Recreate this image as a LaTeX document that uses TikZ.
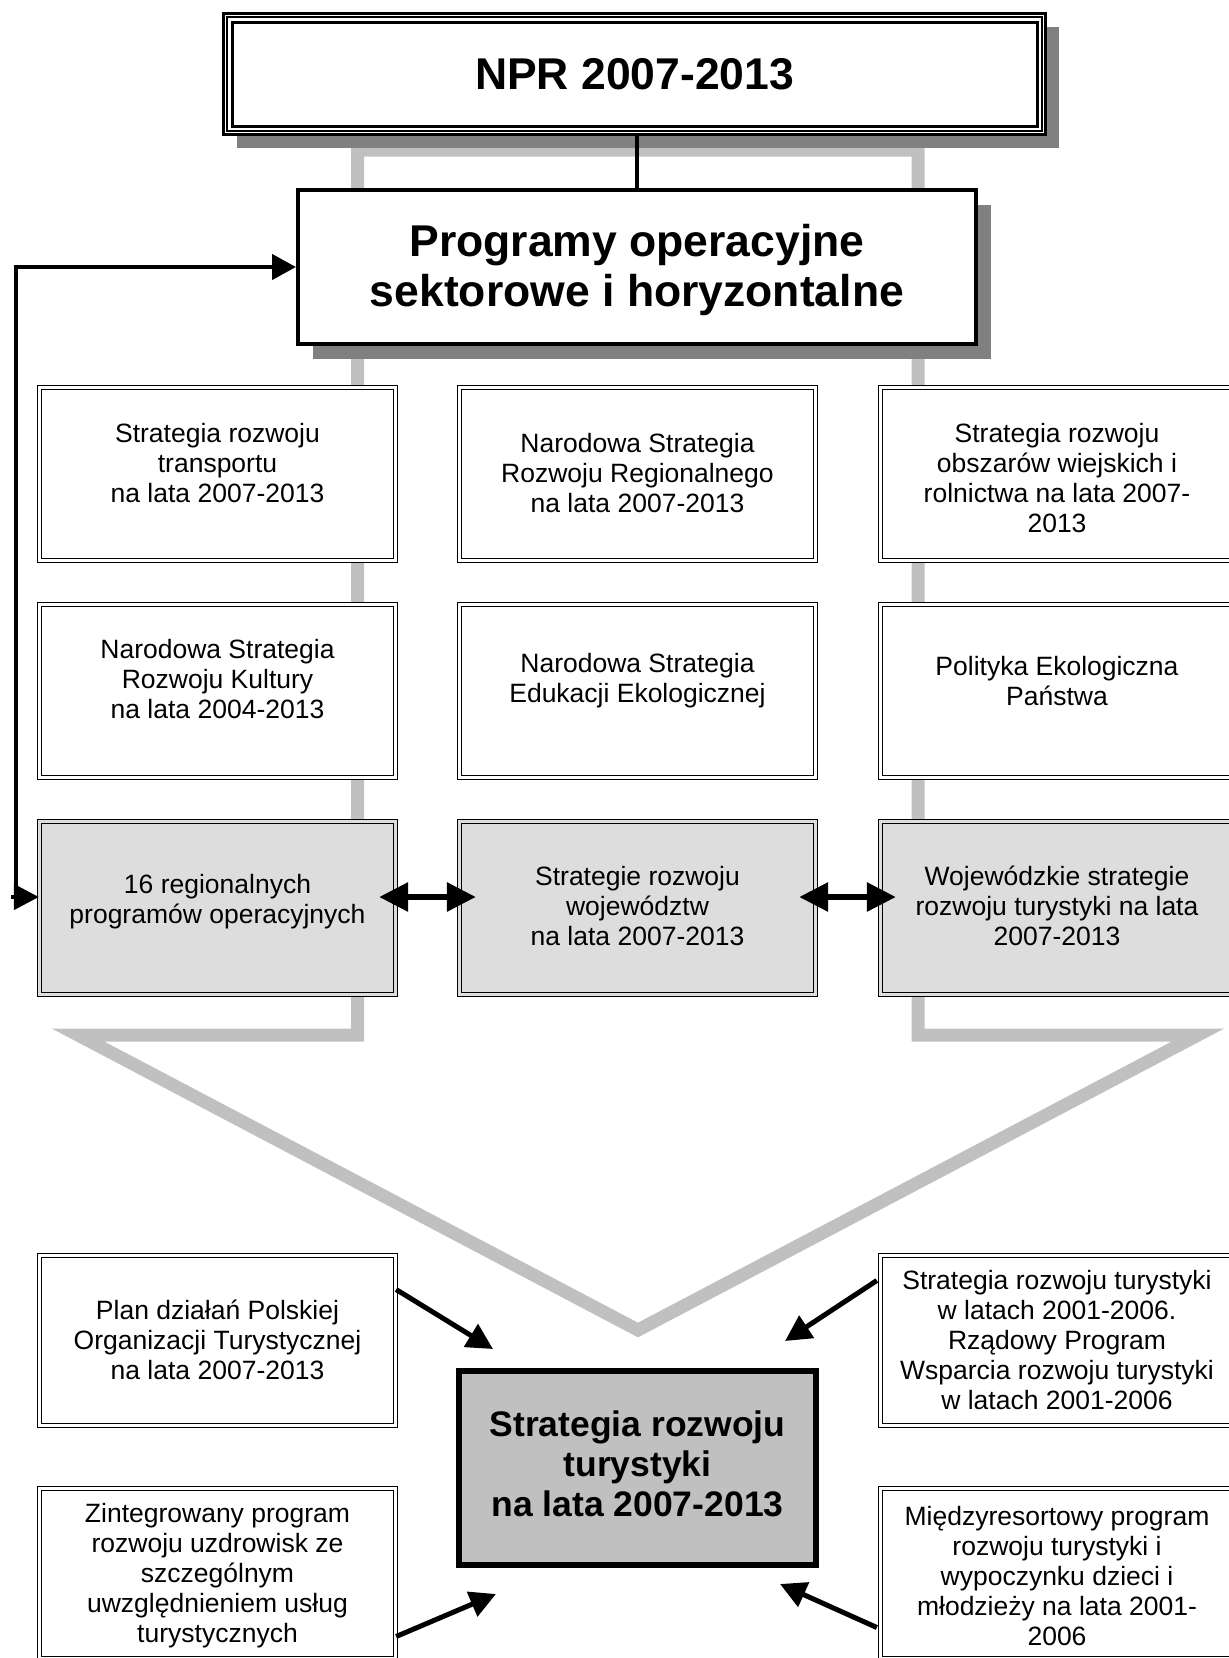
\documentclass[tikz,border=0pt]{standalone}
\usepackage{fontspec}
\setmainfont{Liberation Sans}
\usetikzlibrary{arrows.meta,shadows,calc}
\definecolor{graybg}{HTML}{C0C0C0}
\definecolor{shadowgray}{HTML}{808080}
\definecolor{lightfill}{HTML}{DDDDDD}
\definecolor{centerfill}{HTML}{C0C0C0}
\begin{document}
\begin{tikzpicture}[x=1pt,y=-1pt,
  dbox/.style={draw=black, line width=1.3pt, double=white, double distance=2.8pt, fill=white,
    minimum width=356pt, minimum height=173pt, inner sep=0pt},
  gbox/.style={dbox, fill=lightfill, double=lightfill},
  lbox/.style={dbox, minimum height=170pt},
  txt/.style={align=center, inner sep=0pt, font=\fontsize{26.5pt}{30pt}\selectfont},
  bigbold/.style={align=center, inner sep=0pt, font=\bfseries\fontsize{44.5pt}{50pt}\selectfont},
  barrow/.style={line width=6pt, {Triangle[length=29pt,width=28pt]}-{Triangle[length=29pt,width=28pt]}},
  sarrow/.style={line width=5pt, -{Triangle[length=26pt,width=26pt]}},
  fbline/.style={line width=4.5pt},
]
\useasboundingbox (0,0) rectangle (1229,1658);

% grey background arrow outline
\draw[graybg, line width=13pt, line join=miter]
  (357.5,150) -- (918,150) -- (918,1035) -- (1198,1035) -- (638,1330) -- (78,1035) -- (357.5,1035) -- cycle;

% top box
\node[draw=black, line width=3pt, fill=white, minimum width=822pt, minimum height=120.7pt, inner sep=0pt,
  general shadow={fill=shadowgray, shadow xshift=13pt, shadow yshift=-13pt}] (npr) at (634.6,74.2) {};
\draw[line width=2pt] ($(npr.north west)+(5,5)$) rectangle ($(npr.south east)+(-5,-5)$);
\draw[line width=3pt] ($(npr.north west)+(10,10)$) rectangle ($(npr.south east)+(-10,-10)$);
\node[bigbold] (tnpr) at (634.6,74) {NPR 2007-2013};

\node[draw=black, line width=4pt, fill=white, minimum width=678pt, minimum height=154pt, inner sep=0pt,
  general shadow={fill=shadowgray, shadow xshift=15pt, shadow yshift=-15pt}] (prog) at (637,267) {};
\node[bigbold] (tprog) at (637,270) {Programy operacyjne\\sektorowe i horyzontalne};

% grid of boxes
\node[dbox] (r11) at (217.5,474) {};
\node[dbox] (r12) at (637.5,474) {};
\node[dbox] (r13) at (1058.5,474) {};
\node[dbox] (r21) at (217.5,691) {};
\node[dbox] (r22) at (637.5,691) {};
\node[dbox] (r23) at (1058.5,691) {};
\node[gbox] (r31) at (217.5,908) {};
\node[gbox] (r32) at (637.5,908) {};
\node[gbox] (r33) at (1058.5,908) {};

\node[txt] (t11) at (217.5,463) {Strategia rozwoju\\transportu\\na lata 2007-2013};
\node[txt] (t12) at (637.5,473) {Narodowa Strategia\\Rozwoju Regionalnego\\na lata 2007-2013};
\node[txt] (t13) at (1057,478) {Strategia rozwoju\\obszarów wiejskich i\\rolnictwa na lata 2007-\\2013};
\node[txt] (t21) at (217.5,679) {Narodowa Strategia\\Rozwoju Kultury\\na lata 2004-2013};
\node[txt] (t22) at (637.5,681) {Narodowa Strategia\\Edukacji Ekologicznej};
\node[txt] (t23) at (1057,681) {Polityka Ekologiczna\\Państwa};
\node[txt] (t31) at (217.5,902) {16 regionalnych\\programów operacyjnych};
\node[txt] (t32) at (637.5,906) {Strategie rozwoju\\województw\\na lata 2007-2013};
\node[txt] (t33) at (1057,906) {Wojewódzkie strategie\\rozwoju turystyki na lata\\2007-2013};

% bottom section
\node[lbox] (b1) at (217.5,1340.5) {};
\node[lbox] (b2) at (217.5,1573.5) {};
\node[lbox] (b3) at (1058.5,1340.5) {};
\node[lbox] (b4) at (1058.5,1573.5) {};
\node[txt] (tb1) at (217.5,1340) {Plan działań Polskiej\\Organizacji Turystycznej\\na lata 2007-2013};
\node[txt] (tb2) at (217.5,1576) {Zintegrowany program\\rozwoju uzdrowisk ze\\szczególnym\\uwzględnieniem usług\\turystycznych};
\node[txt] (tb3) at (1057,1340) {Strategia rozwoju turystyki\\w latach 2001-2006.\\Rządowy Program\\Wsparcia rozwoju turystyki\\w latach 2001-2006};
\node[txt] (tb4) at (1057,1576) {Międzyresortowy program\\rozwoju turystyki i\\wypoczynku dzieci i\\młodzieży na lata 2001-\\2006};

\node[draw=black, line width=6pt, fill=centerfill, minimum width=357pt, minimum height=194pt, inner sep=0pt] (cb) at (637.5,1468) {};
\node[align=center, inner sep=0pt, font=\bfseries\fontsize{35.5pt}{40pt}\selectfont] (tcb) at (637.5,1464)
  {Strategia rozwoju\\turystyki\\na lata 2007-2013};

% connectors
\draw[line width=4.5pt] (npr.south -| prog.north) -- (prog.north);

\coordinate (fbb) at (16,897);
\draw[fbline, -{Triangle[length=24pt,width=25pt]}] (fbb) |- (prog.west);
\draw[fbline, -{Triangle[length=25pt,width=25pt]}] ($(r31.west)+(-28,-11)$) -- ($(r31.west)+(0,-11)$);

\draw[barrow] ($(r31.east)+(-17,-11)$) -- ($(r32.west)+(17,-11)$);
\draw[barrow] ($(r32.east)+(-17,-11)$) -- ($(r33.west)+(16,-11)$);

\coordinate (p1) at (493,1349);
\coordinate (p2) at (496,1594);
\coordinate (p3) at (785,1341);
\coordinate (p4) at (780,1584);
\draw[sarrow] ($(b1.east)+(0,-51)$) -- (p1);
\draw[sarrow] ($(b2.east)+(0,63)$) -- (p2);
\draw[sarrow] ($(b3.west)+(-3,-60)$) -- (p3);
\draw[sarrow] ($(b4.west)+(-3,54)$) -- (p4);
\end{tikzpicture}
\end{document}
